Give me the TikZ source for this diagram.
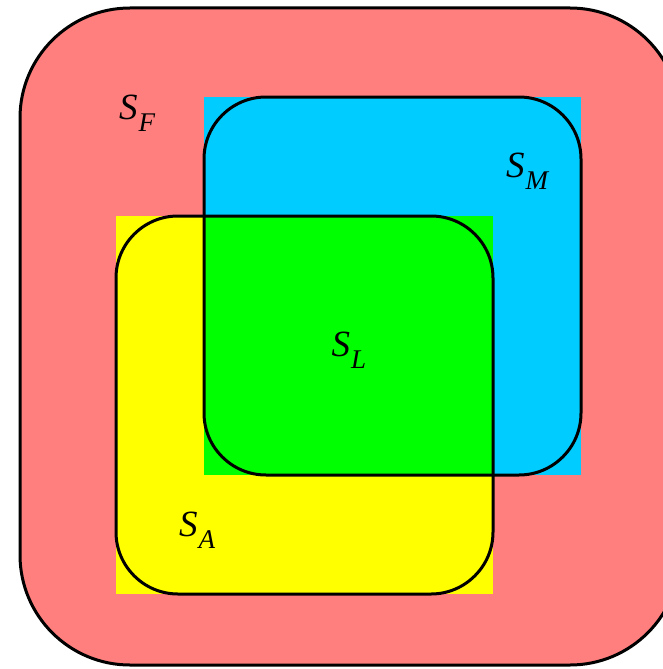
\documentclass[tikz,border=0pt]{standalone}
\usepackage{fontspec}
\setmainfont{Liberation Serif}
\definecolor{pinkF}{RGB}{255,127,127}
\definecolor{blueM}{RGB}{0,204,255}
\definecolor{yellowA}{RGB}{255,255,0}
\definecolor{greenL}{RGB}{0,255,0}
\newcommand\setname[2]{{\fontsize{37}{42}\selectfont\itshape #1}\kern1pt\raisebox{-12pt}{\fontsize{27}{31}\selectfont\itshape #2}}
\begin{document}
\begin{tikzpicture}[x=1pt,y=-1pt,
  outline/.style={draw=black,line width=3pt},
  lbl/.style={inner sep=0pt}]
\useasboundingbox (0,0) rectangle (663,669);
% outer set S_F
\fill[pinkF,rounded corners=110pt] (20,8) rectangle (680,665);
\draw[outline,rounded corners=110pt] (20,8) rectangle (680,665);
% square fills
\fill[blueM] (204,97) rectangle (581,475);
\fill[yellowA] (116,216) rectangle (493,594);
\fill[greenL] (204,216) rectangle (493,475);
% rounded outlines
\draw[outline,rounded corners=62pt] (204,97) rectangle (581,475);
\draw[outline,rounded corners=62pt] (116,216) rectangle (493,594);
% labels
\node[lbl] (sf) at (137,113) {\setname{S}{F}};
\node[lbl] (sm) at (527,171) {\setname{S}{M}};
\node[lbl] (sl) at (349,350) {\setname{S}{L}};
\node[lbl] (sa) at (197,530) {\setname{S}{A}};
\end{tikzpicture}
\end{document}
